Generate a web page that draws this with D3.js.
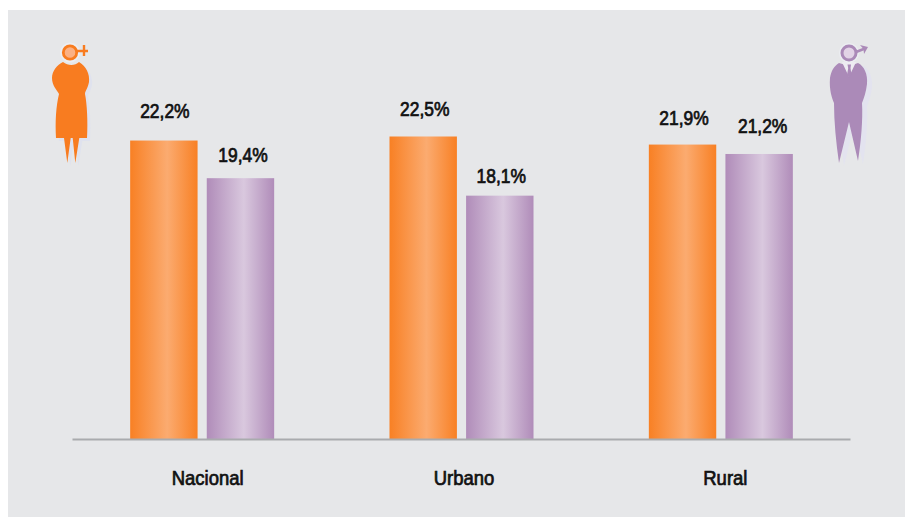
<!DOCTYPE html>
<html>
<head>
<meta charset="utf-8">
<script src="https://cdn.jsdelivr.net/npm/d3@7"></script>
<style>
  html, body { margin: 0; padding: 0; background: #fff; }
  svg { display: block; }
  text { font-family: "Liberation Sans", sans-serif; font-weight: 400; fill: #111; stroke: #111; stroke-width: 0.75px; font-size: 20.5px; }
</style>
</head>
<body>
<svg id="chart"></svg>
<script>
// DATA
var categories = ["Nacional", "Urbano", "Rural"];
var series = ["Mujeres", "Hombres"];
var mujeres = [22.2, 22.5, 21.9];
var hombres = [19.4, 18.1, 21.2];

var width = 905, height = 517;
var svg = d3.select("#chart").attr("width", width).attr("height", height);

// LABEL NUDGES, the original labels are hand placed
var gapM = [23, 21, 20], gapH = [16, 13, 21];
var nudgeM = [1, 1.5, 1.5], nudgeH = [2.5, 1.5, 3.5];
var nudgeCat = [6, 3, 5];
var condense = 0.85, condenseCat = 0.9;

// GRADIENTS
var defs = svg.append("defs");
function barGradient(id, edge, mid) {
  var g = defs.append("linearGradient").attr("id", id);
  g.append("stop").attr("offset", "0%").attr("stop-color", edge);
  g.append("stop").attr("offset", "55%").attr("stop-color", mid);
  g.append("stop").attr("offset", "100%").attr("stop-color", edge);
}
barGradient("gradM", "#f88024", "#fbab70");
barGradient("gradH", "#b08cb9", "#d9c8de");

// PANEL
svg.append("rect").attr("x", 8).attr("y", 10).attr("width", 897).attr("height", 507).attr("fill", "#e6e7e9");

// SCALES
var x0 = d3.scaleBand().domain(categories).range([72, 850]);
var x1 = d3.scaleBand().domain(series).range([-71.5, 72.5]).paddingInner(0.12).paddingOuter(0);
var y = d3.scaleLinear().domain([0, 22.5]).range([439, 136.5]);
var colors = d3.scaleOrdinal().domain(series).range(["url(#gradM)", "url(#gradH)"]);

var rows = categories.map(function (c, i) {
  return { category: c, values: [
    { serie: series[0], value: mujeres[i], gap: gapM[i], nudge: nudgeM[i] },
    { serie: series[1], value: hombres[i], gap: gapH[i], nudge: nudgeH[i] }
  ] };
});

var groups = svg.selectAll(".group").data(rows).enter().append("g")
  .attr("class", "group")
  .attr("transform", function (d) { return "translate(" + (x0(d.category) + x0.bandwidth() / 2) + ",0)"; });

groups.selectAll("rect").data(function (d) { return d.values; }).enter().append("rect")
  .attr("x", function (d) { return x1(d.serie); })
  .attr("width", x1.bandwidth())
  .attr("y", function (d) { return y(d.value); })
  .attr("height", function (d) { return y(0) - y(d.value); })
  .attr("fill", function (d) { return colors(d.serie); });

groups.selectAll(".val").data(function (d) { return d.values; }).enter().append("text")
  .attr("class", "val")
  .attr("text-anchor", "middle")
  .attr("transform", function (d) {
    var px = x1(d.serie) + x1.bandwidth() / 2 + d.nudge;
    return "translate(" + px + "," + (y(d.value) - d.gap) + ") scale(" + condense + ",1)";
  })
  .text(function (d) { return d.value.toFixed(1).replace(".", ",") + "%"; });

// AXIS
var axis = svg.append("g").attr("transform", "translate(0,439)")
  .call(d3.axisBottom(x0).tickSize(0));
axis.select(".domain").attr("stroke", "#a9abae").attr("stroke-width", 2);
axis.selectAll(".tick text")
  .attr("y", null).attr("dy", null)
  .attr("transform", function (d, i) { return "translate(" + nudgeCat[i] + ",46) scale(" + condenseCat + ",1)"; })
  .style("font-size", "20.5px").style("font-family", "'Liberation Sans', sans-serif");

// ICONS
var womanBody = "M63,62C68,66 75,66 79,62C86,66 90,74 89,82C88,88 85,91 85,94C87,104 88,122 87,138H79.3L75.3,163L72.7,138H70.7L67.3,163L64,138H56C55,122 56,106 59,94C57,90 52,86 52,78C52,71 57,65 63,62Z";
var manBody = "M839,63L849,66L858,63C864,66 868,74 867,84C866,92 864,98 862,103C863,120 861,142 858,161L849,122L839,163C836,142 834,122 834,103C832,98 829,90 830,78C831,71 834,66 839,63Z";

function woman(g) {
  g.append("path").attr("transform", "translate(3,3)").attr("fill", "#dfe2ee").attr("d", womanBody);
  g.append("path").attr("fill", "#f87c20").attr("d", womanBody);
  g.append("circle").attr("cx", 70).attr("cy", 52.5).attr("r", 10).attr("fill", "#eceef2");
  g.append("circle").attr("cx", 70).attr("cy", 52.5).attr("r", 6.7).attr("fill", "#fbb184").attr("stroke", "#f87c20").attr("stroke-width", 2.8);
  g.append("path").attr("stroke", "#f87c20").attr("stroke-width", 2.4).attr("fill", "none").attr("d", "M77,51H88M84,45V56");
}

function man(g) {
  g.append("path").attr("transform", "translate(5,3)").attr("fill", "#e3e3ef").attr("d", manBody);
  g.append("path").attr("fill", "#ab8ab8").attr("d", manBody);
  g.append("path").attr("fill", "#eeecf2").attr("d", "M842,62L849,77L856,62Z");
  g.append("path").attr("fill", "#ab8ab8").attr("d", "M847.5,64.5H851L850.5,68L851.5,75L849.3,78L847,75L848.2,68Z");
  g.append("circle").attr("cx", 849).attr("cy", 53).attr("r", 10).attr("fill", "#eceef2");
  g.append("circle").attr("cx", 849).attr("cy", 53).attr("r", 7).attr("fill", "#e2d3e6").attr("stroke", "#ab8ab8").attr("stroke-width", 3);
  g.append("path").attr("stroke", "#ab8ab8").attr("stroke-width", 2.6).attr("fill", "none").attr("d", "M856,52L865,48.5");
  g.append("path").attr("fill", "#ab8ab8").attr("d", "M860,45L868,47L864,54L863.5,49Z");
}

woman(svg.append("g"));
man(svg.append("g"));
</script>
</body>
</html>
